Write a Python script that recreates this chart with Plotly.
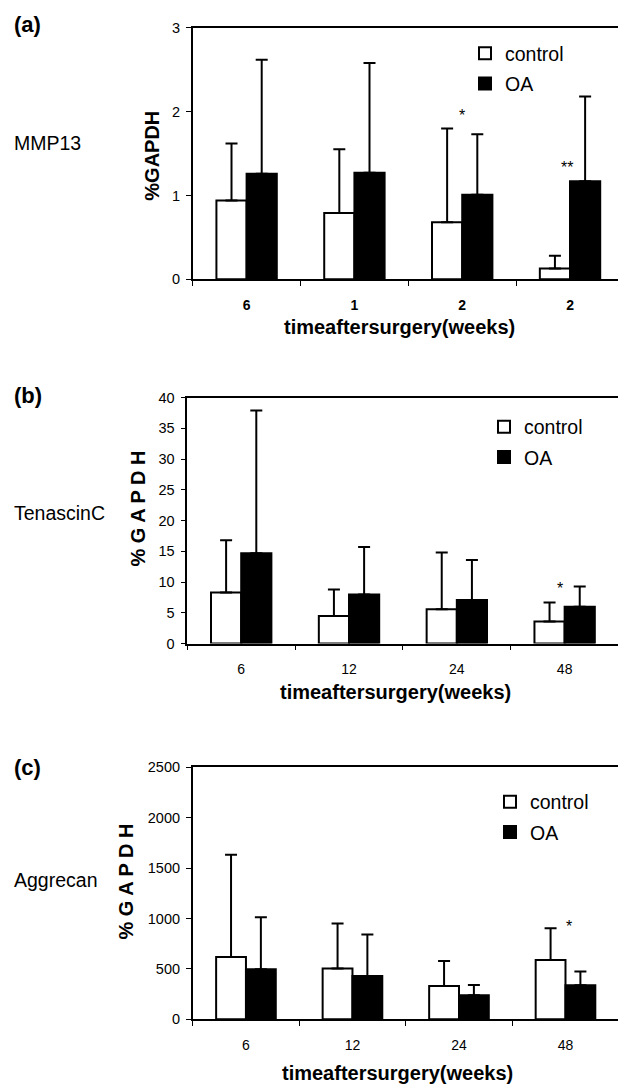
import plotly.graph_objects as go

W, H = 618, 1084
FONT = "Liberation Sans, Arial, sans-serif"

# ---------------- data ----------------
series_names = ["control", "OA"]
gene_names = ["MMP13", "TenascinC", "Aggrecan"]
panel_letters = ["(a)", "(b)", "(c)"]
y_title_a = "%GAPDH"
y_title_bc = "% G A P D H"
x_title = "timeaftersurgery(weeks)"

# (a) MMP13
a_ticks = ["6", "1", "2", "2"]
a_control = [0.94, 0.79, 0.68, 0.13]
a_control_err = [0.68, 0.76, 1.12, 0.15]
a_oa = [1.26, 1.27, 1.01, 1.17]
a_oa_err = [1.36, 1.31, 0.72, 1.01]
a_star_text = ["*", "**"]
a_star_cat = [2, 3]
a_star_y = [2.0, 1.38]

# (b) TenascinC
b_ticks = ["6", "12", "24", "48"]
b_control = [8.3, 4.5, 5.6, 3.6]
b_control_err = [8.5, 4.3, 9.2, 3.1]
b_oa = [14.7, 8.0, 7.1, 6.0]
b_oa_err = [23.2, 7.7, 6.5, 3.3]
b_star_text = ["*"]
b_star_cat = [3]
b_star_y = [9.6]

# (c) Aggrecan
c_ticks = ["6", "12", "24", "48"]
c_control = [619, 503, 331, 589]
c_control_err = [1013, 447, 248, 315]
c_oa = [497, 430, 238, 338]
c_oa_err = [516, 411, 103, 135]
c_star_text = ["*"]
c_star_cat = [3]
c_star_y = [963]

y_ranges = [[0, 3], [0, 40], [0, 2500]]
y_dticks = [1, 5, 500]

# ---------------- layout helpers ----------------
def px(x):
    return x / W

def py(y):
    return 1 - y / H

panels = [
    dict(ticks=a_ticks, ctl=a_control, ctl_e=a_control_err, oa=a_oa, oa_e=a_oa_err,
         st=a_star_text, sc=a_star_cat, sy=a_star_y, sx=[0, -3],
         left=192.7, top=27.8, bottom=279.3, xmax=3.445, bold_ticks=True,
         ytitle=y_title_a, ytx=151.7, yty=156, xtx=399.7, xty=326.7,
         letter_y=25, gene_y=143, leg_x=465, leg_y=34),
    dict(ticks=b_ticks, ctl=b_control, ctl_e=b_control_err, oa=b_oa, oa_e=b_oa_err,
         st=b_star_text, sc=b_star_cat, sy=b_star_y, sx=[-5],
         left=187.3, top=397.5, bottom=643.6, xmax=3.495, bold_ticks=False,
         ytitle=y_title_bc, ytx=137.5, yty=509, xtx=395, xty=691.7,
         letter_y=395, gene_y=513, leg_x=484, leg_y=407.5),
    dict(ticks=c_ticks, ctl=c_control, ctl_e=c_control_err, oa=c_oa, oa_e=c_oa_err,
         st=c_star_text, sc=c_star_cat, sy=c_star_y, sx=[4],
         left=192.7, top=767.3, bottom=1019.3, xmax=3.493, bold_ticks=False,
         ytitle=y_title_bc, ytx=125, yty=881.5, xtx=397.5, xty=1073,
         letter_y=767, gene_y=880, leg_x=490, leg_y=782.5),
]

fig = go.Figure()
annotations = []
layout = {}

for i, p in enumerate(panels):
    n = i + 1
    xa = "x" if n == 1 else f"x{n}"
    ya = "y" if n == 1 else f"y{n}"
    lg = "legend" if n == 1 else f"legend{n}"
    xs = list(range(len(p["ticks"])))
    fig.add_trace(go.Bar(
        x=xs, y=p["ctl"], name=series_names[0], xaxis=xa, yaxis=ya, legend=lg,
        legendgroup=f"c{n}",
        marker=dict(color="white", line=dict(color="black", width=2)),
        error_y=dict(type="data", symmetric=False, array=p["ctl_e"],
                     arrayminus=[0] * len(xs), color="black", thickness=2, width=6),
    ))
    fig.add_trace(go.Bar(
        x=xs, y=p["oa"], name=series_names[1], xaxis=xa, yaxis=ya, legend=lg,
        legendgroup=f"o{n}",
        marker=dict(color="black", line=dict(color="black", width=2)),
        error_y=dict(type="data", symmetric=False, array=p["oa_e"],
                     arrayminus=[0] * len(xs), color="black", thickness=2, width=6),
    ))

    xkey = "xaxis" if n == 1 else f"xaxis{n}"
    ykey = "yaxis" if n == 1 else f"yaxis{n}"
    layout[xkey] = dict(
        domain=[px(p["left"]), 1], anchor=ya, range=[-0.5, p["xmax"]],
        tickmode="array", tickvals=xs, ticktext=p["ticks"], ticks="",
        ticklabelstandoff=12, automargin=False,
        tickfont=dict(family=FONT, size=14, color="black",
                      weight="bold" if p["bold_ticks"] else "normal"),
        minor=dict(tickmode="array", tickvals=[v - 0.5 for v in xs], ticks="outside",
                   ticklen=5, tickwidth=1, tickcolor="black"),
        showline=True, linecolor="black", linewidth=1.5, mirror=True,
        showgrid=False, zeroline=False, fixedrange=True,
    )
    layout[ykey] = dict(
        domain=[py(p["bottom"]), py(p["top"])], anchor=xa, range=y_ranges[i],
        dtick=y_dticks[i], tick0=0, ticks="outside", ticklen=5, tickwidth=1,
        automargin=False, ticklabelstandoff=3,
        tickcolor="black", tickfont=dict(family=FONT, size=14.5, color="black"),
        showline=True, linecolor="black", linewidth=1.5, mirror=False,
        showgrid=False, zeroline=False, fixedrange=True,
    )
    layout[lg] = dict(
        x=px(p["leg_x"]), y=py(p["leg_y"]), xanchor="left", yanchor="top",
        xref="paper", yref="paper", bgcolor="rgba(0,0,0,0)", borderwidth=0,
        font=dict(family=FONT, size=19.5, color="black"),
        traceorder="grouped", tracegroupgap=2,
    )

    # asterisks
    for t, c, yv, dx in zip(p["st"], p["sc"], p["sy"], p["sx"]):
        annotations.append(dict(
            x=c, y=yv, xref=xa, yref=ya, text=t, showarrow=False,
            xanchor="center", yanchor="middle", xshift=dx, yshift=-4,
            font=dict(family=FONT, size=16, color="black"),
        ))
    # axis titles
    annotations.append(dict(
        x=px(p["xtx"]), y=py(p["xty"]), xref="paper", yref="paper", text=f"<b>{x_title}</b>",
        showarrow=False, xanchor="center", yanchor="middle",
        font=dict(family=FONT, size=20, color="black"),
    ))
    annotations.append(dict(
        x=px(p["ytx"]), y=py(p["yty"]), xref="paper", yref="paper", text=f"<b>{p['ytitle']}</b>",
        showarrow=False, xanchor="center", yanchor="middle", textangle=-90,
        font=dict(family=FONT, size=20, color="black"),
    ))
    # panel letter and gene name
    annotations.append(dict(
        x=px(12), y=py(p["letter_y"]), xref="paper", yref="paper", text=f"<b>{panel_letters[i]}</b>",
        showarrow=False, xanchor="left", yanchor="middle",
        font=dict(family=FONT, size=22, color="black"),
    ))
    annotations.append(dict(
        x=px(12), y=py(p["gene_y"]), xref="paper", yref="paper", text=gene_names[i],
        showarrow=False, xanchor="left", yanchor="middle",
        font=dict(family=FONT, size=19.5, color="black"),
    ))

fig.update_layout(
    width=W, height=H, margin=dict(l=0, r=0, t=0, b=0, autoexpand=False),
    paper_bgcolor="white", plot_bgcolor="white",
    barmode="group", bargap=0.44, bargroupgap=0,
    showlegend=True, annotations=annotations,
    font=dict(family=FONT, color="black"),
    **layout,
)

fig.write_html(
    "out.html",
    config={"displayModeBar": False},
    post_script="document.body.style.margin='0';document.body.style.overflow='hidden';",
)
